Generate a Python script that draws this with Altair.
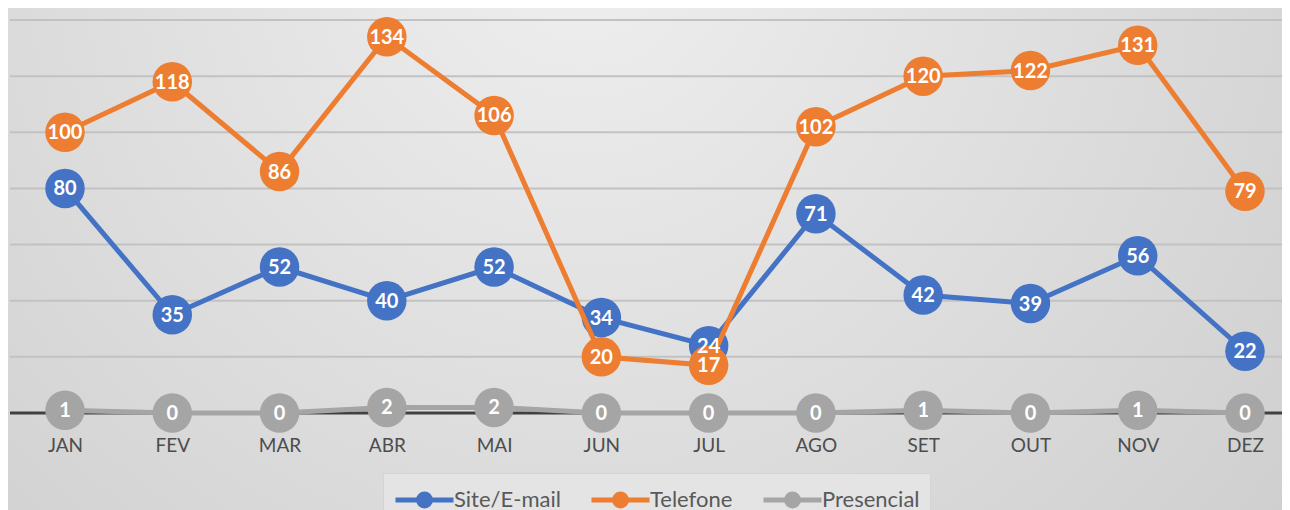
import altair as alt
import pandas as pd

months = ["JAN", "FEV", "MAR", "ABR", "MAI", "JUN", "JUL", "AGO", "SET", "OUT", "NOV", "DEZ"]
series_names = ["Site/E-mail", "Telefone", "Presencial"]
site = [80, 35, 52, 40, 52, 34, 24, 71, 42, 39, 56, 22]
telefone = [100, 118, 86, 134, 106, 20, 17, 102, 120, 122, 131, 79]
presencial = [1, 0, 0, 2, 2, 0, 0, 0, 1, 0, 1, 0]
colors = ["#4472C4", "#ED7D31", "#A5A5A5"]
grid_values = [20, 40, 60, 80, 100, 120, 140]

rows = []
for name, vals in zip(series_names, [site, telefone, presencial]):
    for m, v in zip(months, vals):
        rows.append({"mes": m, "serie": name, "valor": v})
df = pd.DataFrame(rows)

W, H = 1272, 393
FONT = "Lato"

x = alt.X("mes:N", sort=months,
          scale=alt.Scale(type="point", range=[55, 1235], padding=0),
          axis=alt.Axis(title=None, domain=False, ticks=False, grid=False,
                        labelPadding=23, labelFontSize=19, labelColor="#4d4d4d",
                        labelFont=FONT, labelAngle=0, zindex=1))
y = alt.Y("valor:Q", scale=alt.Scale(domain=[0, 140], nice=False),
          axis=alt.Axis(title=None, labels=False, ticks=False, domain=False, grid=False))
color = alt.Color("serie:N", scale=alt.Scale(domain=series_names, range=colors),
                  legend=alt.Legend(title=None, orient="none", direction="horizontal",
                                    legendX=373, legendY=453,
                                    symbolType="M-1,0L3,0M0.59,0A0.41,0.41,0,1,1,1.41,0A0.41,0.41,0,1,1,0.59,0Z",
                                    symbolSize=841, symbolStrokeWidth=5,
                                    labelFont=FONT, labelFontSize=22, labelColor="#595959",
                                    labelOffset=27, columnPadding=20, padding=10,
                                    fillColor="#e4e4e4", strokeColor="#d4d4d4"))

bg = alt.Chart(pd.DataFrame({"a": [0]})).mark_rect(
    fill=alt.RadialGradient(gradient="radial",
                            stops=[alt.GradientStop(color="#efefef", offset=0),
                                   alt.GradientStop(color="#c9c9c9", offset=1)],
                            x1=0.45, y1=0.25, r1=0, x2=0.45, y2=0.25, r2=0.85)
).encode(x=alt.value(-2), x2=alt.value(W), y=alt.value(-12), y2=alt.value(H + 97))

grid = alt.Chart(pd.DataFrame({"g": grid_values})).mark_rule(color="#c2c2c2", strokeWidth=2).encode(
    y=alt.Y("g:Q", scale=alt.Scale(domain=[0, 140], nice=False), axis=None))

zero = alt.Chart(pd.DataFrame({"a": [0]})).mark_rule(color="#404040", strokeWidth=3).encode(y=alt.datum(0))

layers = [bg, grid]
for i, name in enumerate(series_names):
    base = alt.Chart(df).transform_filter(alt.datum.serie == name)
    if name == "Presencial":
        layers.append(zero)
    layers.append(base.mark_line(strokeWidth=5).encode(x=x, y=y, color=color))
    layers.append(base.mark_point(filled=True, size=1560, opacity=1).encode(x=x, y=y, color=color))
for name in series_names:
    base = alt.Chart(df).transform_filter(alt.datum.serie == name)
    layers.append(base.mark_text(font=FONT, fontWeight="bold", fontSize=20, color="white",
                                 baseline="middle", align="center", dy=1)
                  .encode(x=x, y=y, text="valor:Q"))

chart = alt.layer(*layers).properties(
    width=W, height=H,
    padding={"left": 2, "top": 12, "right": 0, "bottom": 97},
    autosize=alt.AutoSizeParams(type="none"),
    background="#d6d6d6",
).configure_view(stroke=None)

chart.save("out.html", embed_options={"renderer": "svg", "actions": False})
